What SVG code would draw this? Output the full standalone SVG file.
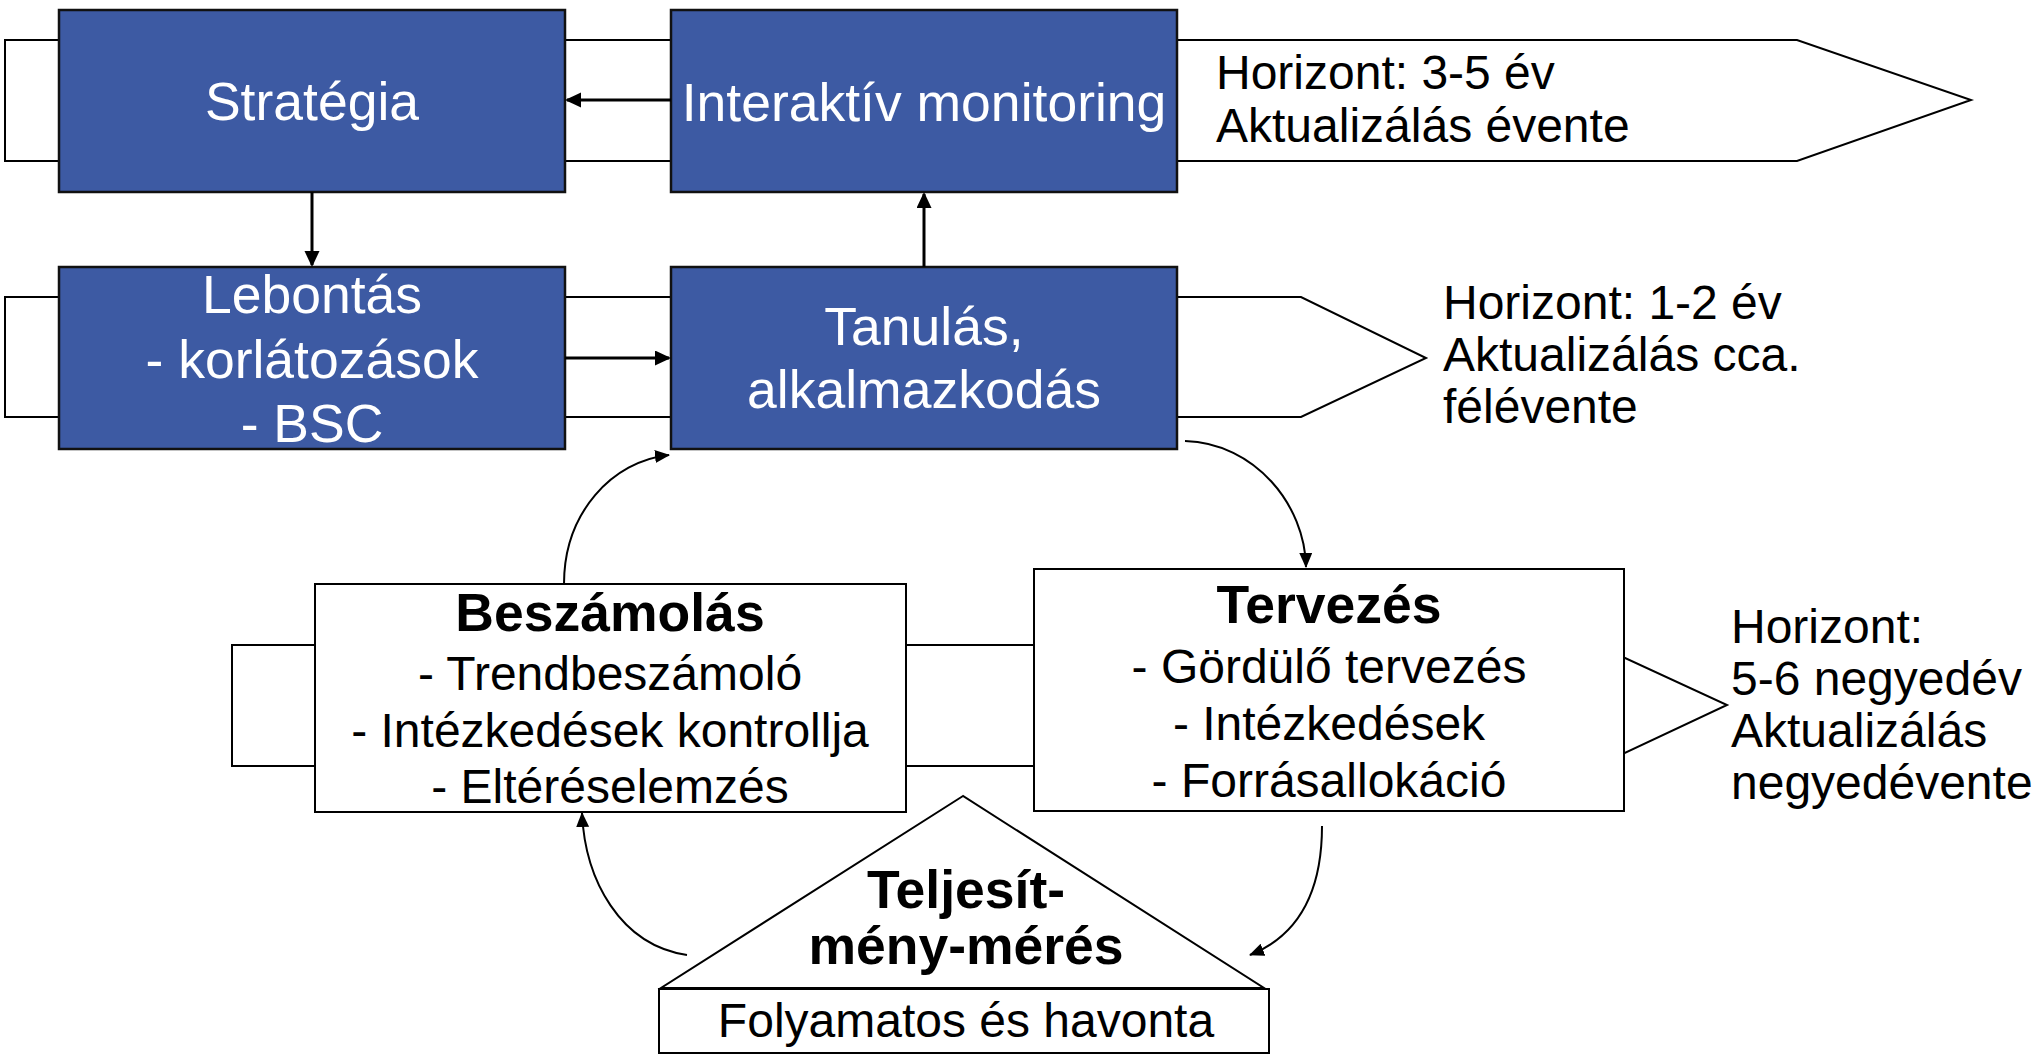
<svg xmlns="http://www.w3.org/2000/svg" width="2033" height="1055" viewBox="0 0 2033 1055">
<defs>
<style>
.band{fill:#fff;stroke:#000;stroke-width:2}
.blue{fill:#3D5AA3;stroke:#111;stroke-width:2.5}
.white{fill:#fff;stroke:#000;stroke-width:2}
.wt{font-family:"Liberation Sans",Arial,sans-serif;font-size:53.5px;fill:#fff;text-anchor:middle}
.bt{font-family:"Liberation Sans",Arial,sans-serif;font-size:53.5px;font-weight:bold;fill:#000;text-anchor:middle}
.it{font-family:"Liberation Sans",Arial,sans-serif;font-size:48px;fill:#000;text-anchor:middle}
.st{font-family:"Liberation Sans",Arial,sans-serif;font-size:48px;fill:#000}
.thick{fill:none;stroke:#000;stroke-width:3}
.thin{fill:none;stroke:#000;stroke-width:2}
</style>
<marker id="ah" markerUnits="userSpaceOnUse" markerWidth="17" markerHeight="16" refX="14" refY="7.5" orient="auto">
<path d="M0,0 L16,7.5 L0,15 z" fill="#000"/>
</marker>
<marker id="ahs" markerUnits="userSpaceOnUse" markerWidth="16" markerHeight="14" refX="14" refY="6.5" orient="auto">
<path d="M0,0 L15,6.5 L0,13 z" fill="#000"/>
</marker>
</defs>
<rect width="2033" height="1055" fill="#fff"/>
<g id="bands">
<polygon class="band" points="5,40 1797,40 1971,100 1797,161 5,161"/>
<polygon class="band" points="5,297 1301,297 1426,358 1301,417 5,417"/>
<polygon class="band" points="232,645 1597,645 1727,705 1597,766 232,766"/>
</g>
<g id="strategia">
<rect class="blue" x="59" y="10" width="506" height="182"/>
<text class="wt" x="312" y="120">Stratégia</text>
</g>
<g id="interaktiv">
<rect class="blue" x="671" y="10" width="506" height="182"/>
<text class="wt" x="924" y="121">Interaktív monitoring</text>
</g>
<g id="lebontas">
<rect class="blue" x="59" y="267" width="506" height="182"/>
<text class="wt" x="312" y="313">Lebontás</text>
<text class="wt" x="312" y="378">- korlátozások</text>
<text class="wt" x="312" y="442">- BSC</text>
</g>
<g id="tanulas">
<rect class="blue" x="671" y="267" width="506" height="182"/>
<text class="wt" x="924" y="345">Tanulás,</text>
<text class="wt" x="924" y="408">alkalmazkodás</text>
</g>
<g id="horizont1">
<text class="st" x="1216" y="89">Horizont: 3-5 év</text>
<text class="st" x="1216" y="142">Aktualizálás évente</text>
</g>
<g id="horizont2">
<text class="st" x="1443" y="319">Horizont: 1-2 év</text>
<text class="st" x="1443" y="371">Aktualizálás cca.</text>
<text class="st" x="1443" y="423">félévente</text>
</g>
<g id="beszamolas">
<rect class="white" x="315" y="584" width="591" height="228"/>
<text class="bt" x="610" y="631">Beszámolás</text>
<text class="it" x="610" y="690">- Trendbeszámoló</text>
<text class="it" x="610" y="747">- Intézkedések kontrollja</text>
<text class="it" x="610" y="803">- Eltéréselemzés</text>
</g>
<g id="tervezes">
<rect class="white" x="1034" y="569" width="590" height="242"/>
<text class="bt" x="1329" y="623">Tervezés</text>
<text class="it" x="1329" y="683">- Gördülő tervezés</text>
<text class="it" x="1329" y="740">- Intézkedések</text>
<text class="it" x="1329" y="797">- Forrásallokáció</text>
</g>
<g id="horizont3">
<text class="st" x="1731" y="643">Horizont:</text>
<text class="st" x="1731" y="695">5-6 negyedév</text>
<text class="st" x="1731" y="747">Aktualizálás</text>
<text class="st" x="1731" y="799">negyedévente</text>
</g>
<g id="teljesitmeny">
<polygon class="white" points="963,796 661,988 1264,988"/>
<rect class="white" x="659" y="989" width="610" height="64"/>
<text class="bt" x="966" y="908">Teljesít-</text>
<text class="bt" x="966" y="964">mény-mérés</text>
<text class="it" x="966" y="1037">Folyamatos és havonta</text>
</g>
<g id="connectors">
<path class="thick" d="M671,100 L567,100" marker-end="url(#ah)"/>
<path class="thick" d="M312,192 L312,265" marker-end="url(#ah)"/>
<path class="thick" d="M565,358 L669,358" marker-end="url(#ah)"/>
<path class="thick" d="M924,267 L924,194" marker-end="url(#ah)"/>
<path class="thin" d="M564,584 C564,513 612,461 669,455" marker-end="url(#ahs)"/>
<path class="thin" d="M1185,441 C1255,443 1305,505 1306,567" marker-end="url(#ahs)"/>
<path class="thin" d="M1322,826 C1322,890 1300,935 1250,955" marker-end="url(#ahs)"/>
<path class="thin" d="M687,955 C620,945 585,880 582,813" marker-end="url(#ahs)"/>
</g>
</svg>
